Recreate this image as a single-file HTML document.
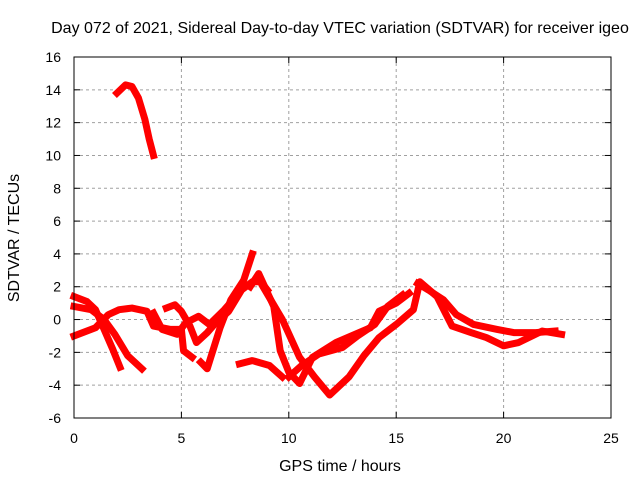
<!DOCTYPE html>
<html><head><meta charset="utf-8"><style>
body{margin:0;background:#fff}
svg text{font-family:"Liberation Sans",sans-serif;font-size:14px;fill:#000}
svg text.big{font-size:16px}
</style></head><body>
<svg width="640" height="480" xmlns="http://www.w3.org/2000/svg">
<rect width="640" height="480" fill="#fff"/>
<g id="grid"></g>
<g id="series"></g>
<rect x="74" y="57" width="537" height="361" fill="none" stroke="#000" stroke-width="1"/>
<g id="ticks"></g>
<text class="big" x="340" y="33" text-anchor="middle">Day 072 of 2021, Sidereal Day-to-day VTEC variation (SDTVAR) for receiver igeo</text>
<text class="big" x="340" y="471" text-anchor="middle">GPS time / hours</text>
<text class="big" transform="translate(19,238) rotate(-90)" text-anchor="middle">SDTVAR / TECUs</text>
</svg>
<script>
const xTicks=[0,5,10,15,20,25];
const yTicks=[-6,-4,-2,0,2,4,6,8,10,12,14,16];
const trackA=[[2.0,13.8],[2.4,14.3],[2.7,14.2],[3.0,13.5],[3.3,12.2],[3.5,11.0],[3.7,10.0]];
const trackB=[[0,1.4],[0.6,1.1],[1.0,0.6],[1.4,-0.6],[1.8,-1.8],[2.14,-2.9]];
const trackC=[[0,0.8],[0.8,0.6],[1.4,0],[1.9,-0.9],[2.5,-2.2],[3.16,-3.0]];
const trackD=[[0,-1.0],[1.0,-0.5],[1.6,0.3],[2.1,0.6],[2.7,0.7],[3.4,0.5],[3.7,-0.4],[4.5,-0.6],[5.0,-0.6],[5.1,-1.9],[5.5,-2.3]];
const trackE=[[4.3,0.7],[4.7,0.9],[5.0,0.5],[5.4,-0.4],[5.7,-1.4],[6.2,-0.8],[6.6,-0.2],[7.2,0.5],[7.8,1.8],[8.3,2.3],[8.7,2.3],[9.0,1.8]];
const trackF=[[3.7,0.4],[4.1,-0.6],[4.8,-0.9],[5.2,-0.2],[5.8,0.2],[6.3,-0.3],[7.0,0.6],[7.6,1.5]];
const trackG=[[5.9,-2.6],[6.2,-3.0],[6.8,-0.5],[7.3,1.2],[7.9,2.4],[8.3,4.0]];
const trackH=[[8.2,2.0],[8.6,2.8],[9.3,0.8],[9.6,-1.9],[10.0,-3.2],[10.5,-3.9],[11.1,-2.3],[12.2,-1.4],[13.8,-0.5],[14.2,0.5],[15.0,1.0],[15.6,1.6]];
const trackI=[[8.8,2.0],[9.7,0],[10.5,-2.3],[11.2,-3.5],[11.9,-4.6],[12.8,-3.5],[13.5,-2.2],[14.2,-1.1],[15.0,-0.3],[15.8,0.6],[16.1,2.3],[16.9,1.4],[17.6,-0.4],[18.5,-0.8],[19.2,-1.1],[20.0,-1.6],[20.7,-1.4],[21.8,-0.7],[22.7,-0.9]];
const trackJ=[[16.0,2.2],[16.5,1.8],[17.2,1.2],[17.8,0.3],[18.6,-0.3],[19.7,-0.6],[20.5,-0.8],[21.5,-0.8],[22.4,-0.7]];
const trackK=[[10.0,-3.5],[10.6,-2.8],[11.4,-2.1],[12.5,-1.7],[13.2,-1.0],[14.0,-0.3],[14.6,0.8],[15.3,1.5]];
const trackL=[[7.7,-2.7],[8.3,-2.5],[9.1,-2.8],[9.7,-3.5]];
const tracks=[trackA,trackB,trackC,trackD,trackE,trackF,trackG,trackH,trackI,trackJ,trackK,trackL];
const NS="http://www.w3.org/2000/svg";
const X=h=>74+h*(537/25);
const Y=v=>418-(v+6)*(361/22);
const grid=document.getElementById('grid'),ticks=document.getElementById('ticks'),series=document.getElementById('series');
function mk(tag,attrs,parent){const e=document.createElementNS(NS,tag);for(const k in attrs)e.setAttribute(k,attrs[k]);parent.appendChild(e);return e;}
xTicks.forEach(t=>{
  const x=X(t);
  if(t>0&&t<25){const g=mk('line',{x1:x,x2:x,y1:57,y2:418,stroke:'#a0a0a0','stroke-dasharray':'3,3'},grid);
  
  }
  mk('line',{x1:x,x2:x,y1:418,y2:412,stroke:'#000'},ticks);
  mk('line',{x1:x,x2:x,y1:57,y2:63,stroke:'#000'},ticks);
  const l=mk('text',{x:x,y:443,'text-anchor':'middle'},ticks);l.textContent=t;
  
  
});
yTicks.forEach(t=>{
  const y=Y(t);
  if(t>-6&&t<16){const g=mk('line',{x1:74,x2:611,y1:y,y2:y,stroke:'#a0a0a0','stroke-dasharray':'3,3'},grid);
  
  }
  mk('line',{x1:74,x2:80,y1:y,y2:y,stroke:'#000'},ticks);
  mk('line',{x1:611,x2:605,y1:y,y2:y,stroke:'#000'},ticks);
  const l=mk('text',{x:61,y:y+5,'text-anchor':'end'},ticks);l.textContent=t;
  
  
});
tracks.forEach(tr=>{
  const p=mk('polyline',{points:tr.map(d=>X(d[0])+','+Y(d[1])).join(' '),fill:'none',stroke:'#ff0000','stroke-width':7,'stroke-linejoin':'round','stroke-linecap':'square'},series);
  
  
});
</script>
</body></html>
